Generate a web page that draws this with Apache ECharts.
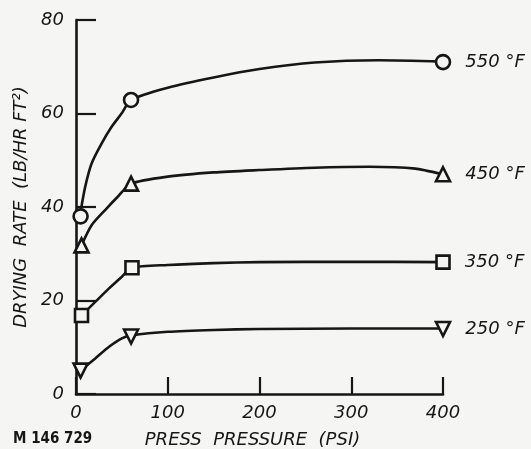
<!DOCTYPE html>
<html>
<head>
<meta charset="utf-8">
<script src="https://cdn.jsdelivr.net/npm/echarts@6/dist/echarts.min.js"></script>
<style>
html,body{margin:0;padding:0;background:#f5f5f3;}
#c{width:531px;height:449px;}
</style>
</head>
<body>
<div id="c"></div>
<script>
// Series names
const seriesNames = ['550 °F', '450 °F', '350 °F', '250 °F'];
const markerSymbols = ['circle', 'triangle', 'rect', 'triangle'];
const markerRotations = [0, 0, 0, 180];

// Measured points (press pressure psi, drying rate)
const points550 = [[5, 38], [60, 62.9], [400, 71]];
const points450 = [[6, 31.8], [60, 45], [400, 47]];
const points350 = [[6, 16.8], [61, 27], [400, 28.2]];
const points250 = [[5, 5], [60, 12.3], [400, 13.9]];

// Fitted curves
const curve550 = [[5, 39], [10, 44.3], [17, 49.3], [28, 53.6], [39, 57.2], [50, 60.1], [60, 62.9], [100, 65.5], [150, 67.7], [200, 69.5], [260, 70.9], [330, 71.4], [400, 71.1]];
const curve450 = [[6, 31.8], [17, 36.1], [32, 39.4], [46, 42.3], [60, 45], [100, 46.5], [150, 47.4], [200, 47.9], [260, 48.4], [320, 48.6], [370, 48.2], [400, 47]];
const curve350 = [[6, 16.8], [21, 19.7], [36, 22.6], [50, 25.1], [61, 27], [100, 27.6], [150, 28], [200, 28.2], [300, 28.3], [400, 28.2]];
const curve250 = [[5, 5], [21, 7.6], [36, 10.1], [50, 11.9], [60, 12.5], [100, 13.3], [150, 13.7], [200, 13.9], [300, 14], [400, 14]];

const xTicks = [0, 100, 200, 300, 400];
const yTicks = [0, 20, 40, 60, 80];

const allPoints = [points550, points450, points350, points250];
const allCurves = [curve550, curve450, curve350, curve250];

const ink = '#161616';
const bg = '#f5f5f3';
const font = 'DejaVu Sans';

const series = [];
allCurves.forEach((c, i) => {
  series.push({
    type: 'line', data: c, smooth: 0.25, showSymbol: false, z: 2,
    lineStyle: { color: ink, width: 2.6 }, silent: true
  });
});
allPoints.forEach((p, i) => {
  series.push({
    type: 'scatter', z: 5,
    symbol: markerSymbols[i], symbolRotate: markerRotations[i],
    symbolSize: markerSymbols[i] === 'rect' ? 13 : 14,
    itemStyle: { color: bg, borderColor: ink, borderWidth: 2.6, opacity: 1 },
    data: p.map((d, j) => j === p.length - 1 ? {
      value: d,
      label: { show: true, position: 'right', distance: 14, formatter: seriesNames[i],
        color: ink, fontFamily: font, fontStyle: 'italic', fontSize: 18 }
    } : { value: d })
  });
});

const chart = echarts.init(document.getElementById('c'));
chart.setOption({
  backgroundColor: bg,
  animation: false,
  grid: { left: 76, right: 88, top: 20, bottom: 55, containLabel: false, outerBoundsMode: 'none' },
  xAxis: {
    type: 'value', min: 0, max: 400, interval: 100,
    name: 'PRESS  PRESSURE  (PSI)', nameLocation: 'middle', nameGap: 37,
    nameTextStyle: { color: ink, fontFamily: font, fontStyle: 'italic', fontSize: 18, padding: [0, 14, 0, 0] },
    axisLine: { lineStyle: { color: ink, width: 2.6 } },
    axisTick: { inside: true, length: 17, lineStyle: { color: ink, width: 2.2 } },
    axisLabel: { color: ink, fontFamily: font, fontStyle: 'italic', fontSize: 18, margin: 10,
      formatter: v => xTicks.includes(v) ? String(v) : '' },
    splitLine: { show: false }
  },
  yAxis: {
    type: 'value', min: 0, max: 80, interval: 20,
    name: 'DRYING  RATE  (LB/HR FT²)', nameLocation: 'middle', nameGap: 44,
    nameTextStyle: { color: ink, fontFamily: font, fontStyle: 'italic', fontSize: 18 },
    axisLine: { show: true, lineStyle: { color: ink, width: 2.6 } },
    axisTick: { show: true, inside: true, length: 20, lineStyle: { color: ink, width: 2.2 } },
    axisLabel: { color: ink, fontFamily: font, fontStyle: 'italic', fontSize: 18, margin: 12,
      formatter: v => yTicks.includes(v) ? String(v) : '' },
    splitLine: { show: false }
  },
  graphic: [{
    type: 'text', left: 13, top: 432,
    style: { text: 'M 146 729', fill: ink, font: 'bold 15px "DejaVu Sans Condensed", "DejaVu Sans"' }
  }],
  series: series
});
</script>
</body>
</html>
